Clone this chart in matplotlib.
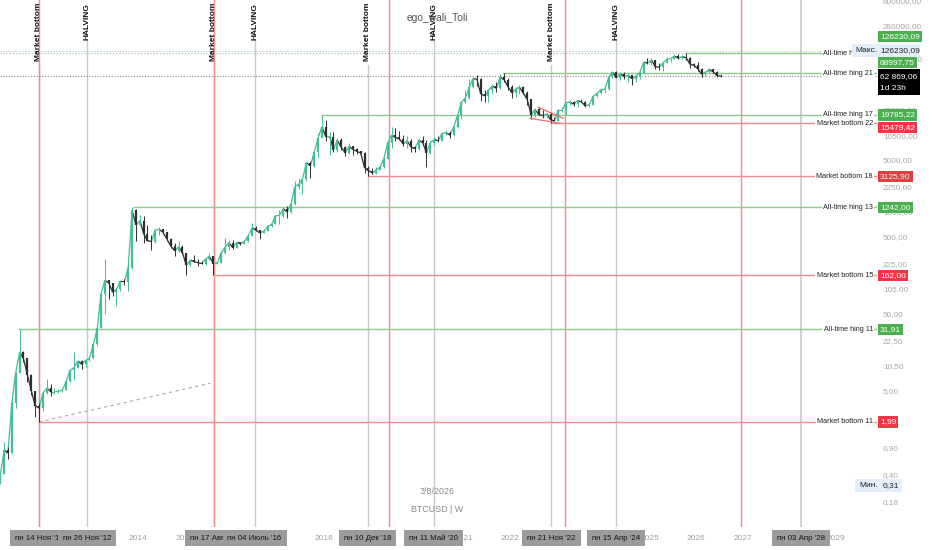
import logging
logging.getLogger('matplotlib.font_manager').setLevel(logging.ERROR)
import numpy as np
import pandas as pd
import matplotlib
matplotlib.use("Agg")
import matplotlib.pyplot as plt
import matplotlib.dates as mdates
import matplotlib.transforms as mtrans
from matplotlib.patches import Rectangle
from matplotlib.collections import LineCollection

plt.rcParams['font.family'] = ['Liberation Sans', 'DejaVu Sans']

# ---------------- data (monthly BTCUSD) ----------------
first_month = '2011-01'
first_open = 0.31
close = [
    0.42, 0.86, 0.78, 3.5, 8.7, 16.1, 13.4, 8.2, 5.1, 3.25, 3.0, 4.7,
    5.5, 4.9, 4.9, 5.0, 5.15, 6.7, 9.4, 10.1, 12.4, 11.2, 12.6, 13.5,
    20.4, 33.4, 93, 139, 129, 97, 106, 135, 133, 204, 1129, 732,
    830, 550, 458, 445, 630, 640, 585, 480, 387, 338, 378, 320,
    217, 254, 244, 236, 230, 263, 284, 230, 236, 314, 377, 430,
    369, 437, 416, 448, 531, 670, 624, 575, 609, 700, 745, 963,
    970, 1190, 1080, 1350, 2300, 2480, 2870, 4730, 4340, 6450, 10000, 13850,
    10200, 10300, 6940, 9250, 7500, 6390, 7730, 7030, 6630, 6320, 4040, 3740,
    3460, 3830, 4110, 5320, 8570, 10820, 10080, 9600, 8290, 9150, 7540, 7190,
    9350, 8540, 6410, 8630, 9450, 9140, 11350, 11650, 10780, 13800, 19700, 29000,
    33100, 45200, 58800, 57700, 37300, 35000, 41500, 47100, 43800, 61300, 57000, 46200,
    38500, 43200, 45500, 37700, 31800, 19900, 23300, 20000, 19400, 20500, 17150, 16540,
    23100, 23100, 28500, 29300, 27200, 30500, 29200, 26000, 26960, 34650, 37700, 42300,
    42600, 61200, 71300, 60700, 67500, 62700, 64600, 59000, 63300, 70300, 96400, 93400,
    102400, 84300, 82500, 94200, 104600, 107100, 115700, 108200, 114000, 109500, 90400, 87500,
    78500, 67000, 71000, 77500, 72000, 64500, 62869.06,
]
high = [
    0.45, 1.10, 0.95, 3.8, 9.0, 31.91, 16.5, 13.5, 8.4, 5.1, 3.5, 4.8,
    7.2, 6.2, 5.5, 5.3, 5.2, 6.8, 9.5, 16.0, 12.8, 12.8, 13.0, 13.8,
    21, 33.5, 95, 266, 140, 130, 110, 137, 145, 230, 1242, 1165,
    1000, 960, 720, 540, 630, 680, 650, 600, 500, 420, 450, 395,
    320, 265, 300, 260, 247, 268, 318, 285, 245, 330, 500, 470,
    465, 445, 440, 465, 550, 770, 700, 630, 615, 715, 755, 980,
    1150, 1210, 1290, 1350, 2760, 2980, 2920, 4740, 4980, 6470, 11400, 19785.22,
    17200, 11800, 11700, 9800, 10000, 7750, 8500, 7750, 7400, 6750, 6550, 4300,
    4080, 4200, 4150, 5600, 9100, 13880, 13200, 12300, 10900, 10370, 9500, 7750,
    9580, 10500, 9200, 9470, 10070, 10380, 11440, 12470, 12090, 14100, 19850, 29300,
    41950, 58350, 61800, 64900, 59600, 41300, 42400, 50500, 52900, 67000, 68997.75, 59100,
    47900, 45800, 48200, 47400, 40000, 31900, 24700, 25200, 22800, 21000, 21500, 18400,
    23900, 25200, 29200, 31000, 29800, 31400, 31800, 30200, 27500, 35200, 38400, 44700,
    48900, 63900, 73800, 72800, 71900, 72000, 70000, 65000, 66500, 73600, 99600, 108300,
    109600, 102500, 95000, 95700, 111900, 110500, 123200, 124400, 117900, 126230.09, 111000, 94500,
    97500, 80000, 74000, 80000, 79500, 73000, 67500,
]
low = [
    0.31, 0.42, 0.65, 0.75, 3.0, 8.7, 12.0, 6.5, 4.4, 2.3, 1.99, 2.8,
    4.6, 4.3, 4.6, 4.7, 4.9, 5.15, 6.6, 7.1, 9.9, 9.8, 10.4, 12.4,
    13.2, 19.5, 33, 50, 80, 88, 65, 101, 121, 100, 198, 450,
    730, 430, 450, 340, 430, 540, 560, 450, 370, 290, 325, 305,
    165, 212, 240, 214, 228, 220, 253, 162, 225, 236, 310, 350,
    355, 365, 400, 412, 435, 530, 610, 480, 570, 605, 690, 745,
    750, 915, 890, 1060, 1340, 2150, 1830, 2700, 2970, 4110, 5500, 10700,
    9000, 5900, 6600, 6450, 7000, 5750, 6070, 5880, 6100, 6200, 3480, 3125.90,
    3360, 3380, 3780, 4080, 5330, 7450, 9080, 9330, 7710, 7300, 6520, 6430,
    6850, 8450, 4100, 6150, 8100, 8900, 8970, 10850, 9880, 10430, 13200, 17600,
    28150, 32300, 45000, 47000, 30000, 28800, 29300, 37300, 39600, 43300, 53300, 42000,
    32900, 34300, 37200, 37600, 26700, 17600, 18800, 19600, 18200, 18200, 15479.42, 16300,
    16500, 21400, 19600, 26900, 25800, 24800, 28900, 25200, 24900, 26600, 34100, 37600,
    38500, 41900, 59300, 59600, 56600, 58500, 53500, 49000, 52600, 58900, 66800, 90500,
    89200, 78200, 76600, 74500, 93400, 98200, 105100, 107300, 107300, 103500, 80500, 84500,
    74000, 62000, 64000, 69500, 70000, 62000, 61800,
]

red_cycle_dates = ['2011-11-14', '2015-08-17', '2019-05-27', '2023-03-06', '2026-12-17']
market_bottom_dates = ['2011-11-14', '2015-08-17', '2018-12-10', '2022-11-21']
halving_dates = ['2012-11-26', '2016-07-04', '2020-05-11', '2024-04-15']
extra_gray_dates = ['2028-04-03']

date_label_dates = ['2011-11-14', '2012-11-26', '2015-08-17', '2016-07-04', '2018-12-10',
                    '2020-05-11', '2022-11-21', '2024-04-15', '2028-04-03']
date_label_texts = ["пн 14 Ноя '11", "пн 26 Ноя '12", "пн 17 Авг '15", "пн 04 Июль '16",
                    "пн 10 Дек '18", "пн 11 Май '20", "пн 21 Ноя '22", "пн 15 Апр '24",
                    "пн 03 Апр '28"]

level_names = ['All-time hing 11', 'Market bottom 11', 'All-time hing 13', 'Market bottom 15',
               'All-time hing 17', 'Market bottom 18', 'All-time hing 21', 'Market bottom 22',
               'All-time hing 25']
level_prices = [31.91, 1.99, 1242.00, 162.00, 19785.22, 3125.90, 68997.75, 15479.42, 126230.09]
level_starts = ['2011-06-08', '2011-11-14', '2013-11-29', '2015-08-17', '2017-12-17',
                '2018-12-10', '2021-11-08', '2022-11-21', '2025-10-06']
level_kinds = ['ath', 'bottom', 'ath', 'bottom', 'ath', 'bottom', 'ath', 'bottom', 'ath']

price_ticks = [0.18, 0.40, 0.90, 2.00, 5.00, 10.50, 22.50, 50.00, 105.00, 225.00, 500.00,
               1050.00, 2250.00, 5000.00, 10500.00, 22500.00, 50000.00, 105000.00,
               280000.00, 600000.00]
# year labels that the date boxes do not fully hide
year_ticks = [2014, 2015, 2018, 2021, 2022, 2025, 2026, 2027, 2029]

trend_dates = ['2011-11-14', '2015-07-20']
trend_prices = [1.99, 6.34]
wedge_upper_dates = ['2022-08-10', '2023-02-22']
wedge_upper_prices = [24900, 17900]
wedge_lower_dates = ['2022-06-06', '2023-01-28']
wedge_lower_prices = [17900, 15400]

last_price = 62869.06
last_price_text = '62 869,06'
countdown_text = '1d 23h'
max_price = 126230.09
min_price = 0.31

# ---------------- figure ----------------
W, H = 932, 550
fig = plt.figure(figsize=(W / 100, H / 100), dpi=100)
fig.patch.set_facecolor('white')
ax = fig.add_axes([0, 23 / H, 877 / W, 527 / H])
ax.set_facecolor('white')
ax.set_yscale('log')
ax.set_ylim(0.0853, 621000)
d2n = lambda s: mdates.date2num(pd.Timestamp(s))
ax.set_xlim(d2n('2011-01-12'), d2n('2029-11-22'))
for sp in ax.spines.values():
    sp.set_visible(False)
ax.set_xticks([])
ax.set_yticks([])
ax.yaxis.set_minor_locator(matplotlib.ticker.NullLocator())

UP = '#45bd9c'
DOWN = '#2e2e2e'
RED = '#f28b8b'
GREEN = '#8fcb8f'
GRAY = '#c9c9c9'

xaxis_data_y = mtrans.blended_transform_factory(ax.transData, ax.transAxes)

# vertical lines
for d in halving_dates:
    ax.plot([d2n(d)] * 2, [0, 1 - 40 / 527], color=GRAY, lw=1, transform=xaxis_data_y, zorder=1)
for d in market_bottom_dates:
    ax.plot([d2n(d)] * 2, [0, 1 - 65 / 527], color=GRAY, lw=1, transform=xaxis_data_y, zorder=1)
for d in extra_gray_dates:
    ax.plot([d2n(d)] * 2, [0, 1], color=GRAY, lw=1.2, transform=xaxis_data_y, zorder=1)
for d in red_cycle_dates:
    ax.plot([d2n(d)] * 2, [0, 1], color=RED, lw=1, transform=xaxis_data_y, zorder=1)

for d in market_bottom_dates:
    ax.text(d2n(d), 1 - 3 / 527, 'Market bottom', rotation=90, va='top', ha='center',
            fontsize=6, fontweight='bold', color='#111111', transform=xaxis_data_y, zorder=6)
for d in halving_dates:
    ax.text(d2n(d), 1 - 3 / 527, 'HALVING', rotation=90, va='top', ha='center',
            fontsize=6, fontweight='bold', color='#111111', transform=xaxis_data_y, zorder=6)

# dotted max / last price lines
ax.axhline(max_price, color='#9fc3c6', lw=0.9, ls=(0, (1, 1.5)), zorder=1)
ax.axhline(max_price * 1.07, color='#c7c7c7', lw=0.8, ls=(0, (1, 1.5)), zorder=1)
ax.axhline(last_price, color='#888888', lw=0.8, ls=(0, (1, 1.5)), zorder=1)

# horizontal levels
xr = ax.get_xlim()[1]
for name, p, s, k in zip(level_names, level_prices, level_starts, level_kinds):
    ax.plot([d2n(s), xr], [p, p], color=GREEN if k == 'ath' else RED, lw=1, zorder=2)

# trend / wedge drawings
ax.plot([d2n(d) for d in trend_dates], trend_prices, color='#aaaaaa', lw=0.8,
        ls=(0, (3, 3)), zorder=2)
ax.plot([d2n(d) for d in wedge_upper_dates], wedge_upper_prices, color='#f06a6a', lw=0.9, zorder=4)
ax.plot([d2n(d) for d in wedge_lower_dates], wedge_lower_prices, color='#f06a6a', lw=0.9, zorder=4)

# candles
months = pd.date_range(first_month, periods=len(close), freq='MS') + pd.Timedelta(days=14)
xs = mdates.date2num(months)
opens = [first_open] + close[:-1]
cols = [UP if c >= o else DOWN for o, c in zip(opens, close)]
segs = [[(xs[i - 1], close[i - 1]), (xs[i], close[i])] for i in range(1, len(close))]
ax.add_collection(LineCollection(segs, colors=cols[1:], linewidths=0.9, zorder=3))
ax.vlines(xs, low, high, colors=cols, linewidth=0.7, zorder=3)
ax.vlines(xs, np.minimum(opens, close), np.maximum(opens, close), colors=cols,
          linewidth=1.6, zorder=3)

# ---------------- pixel-based overlays ----------------
IDT = mtrans.IdentityTransform()


def ypx(price):
    return ax.transData.transform((ax.get_xlim()[0], price))[1]


def xpx(d):
    return ax.transData.transform((d2n(d), 1))[0]


def fmt(v):
    return f"{v:.2f}".replace('.', ',')


# level label texts
for name, p in zip(level_names, level_prices):
    fig.text(873, ypx(p), name, transform=IDT, ha='right', va='center', fontsize=5.2,
             color='#222222', zorder=4,
             bbox=dict(boxstyle='square,pad=0.2', fc='white', ec='none'))

# price scale tick labels
for v in price_ticks:
    fig.text(883, ypx(v), fmt(v), transform=IDT, ha='left',
             va='center', fontsize=5.9, color='#a8a8a8', zorder=3)

# price boxes
box_shift = {126230.09: 17, 68997.75: 11, 15479.42: -4}
for p, k in zip(level_prices, level_kinds):
    fig.text(880, ypx(p) + box_shift.get(p, 0), fmt(p), transform=IDT, ha='left', va='center',
             fontsize=6, color='white', zorder=6,
             bbox=dict(boxstyle='square,pad=0.25', fc='#4caf50' if k == 'ath' else '#f23645',
                       ec='none'))

# max label
ym = ypx(max_price) + 3
fig.add_artist(Rectangle((852, ym - 6.5), 68, 13, transform=IDT, fc='#e3eefb', ec='none',
                         zorder=7))
fig.text(855, ym, 'Макс.', transform=IDT, ha='left', va='center', fontsize=6,
         color='#222222', zorder=8)
fig.text(880, ym, fmt(max_price), transform=IDT, ha='left',
         va='center', fontsize=6, color='#222222', zorder=8)

# min label
yn = ypx(min_price) - 2
fig.add_artist(Rectangle((855, yn - 6.5), 47, 13, transform=IDT, fc='#e3eefb', ec='none',
                         zorder=7))
fig.text(859, yn, 'Мин.', transform=IDT, ha='left', va='center', fontsize=6,
         color='#222222', zorder=8)
fig.text(883, yn, fmt(min_price), transform=IDT, ha='left',
         va='center', fontsize=6, color='#222222', zorder=8)

# last price box
yl = ypx(last_price)
fig.add_artist(Rectangle((878, yl - 19), 42, 26, transform=IDT, fc='#000000', ec='none',
                         zorder=7))
fig.text(880, yl, last_price_text, transform=IDT, ha='left', va='center', fontsize=6,
         color='white', zorder=8)
fig.text(880, yl - 12, countdown_text, transform=IDT, ha='left', va='center', fontsize=6,
         color='white', zorder=8)

# year labels
for yv in year_ticks:
    fig.text(xpx(f'{yv}-01-01'), H - 539, str(yv), transform=IDT, ha='center', va='center',
             fontsize=6, color='#a0a0a0', zorder=2)

# date boxes
for d, t in zip(date_label_dates, date_label_texts):
    fig.text(xpx(d), H - 538, t, transform=IDT, ha='center', va='center', fontsize=5.7,
             color='#151515', zorder=5,
             bbox=dict(boxstyle='square,pad=0.62', fc='#9b9b9b', ec='none'))

# watermark texts
fig.text(437, H - 18, 'ego_wali_Toli', transform=IDT, ha='center', va='center',
         fontsize=7.4, color='#555555', zorder=5)
fig.text(437, H - 492, '3/8/2026', transform=IDT, ha='center', va='center',
         fontsize=6.4, color='#8a8a8a', zorder=5)
fig.text(437, H - 510, 'BTCUSD | W', transform=IDT, ha='center', va='center',
         fontsize=6.4, color='#8a8a8a', zorder=5)

fig.savefig('out.png', dpi=100, facecolor='white')
